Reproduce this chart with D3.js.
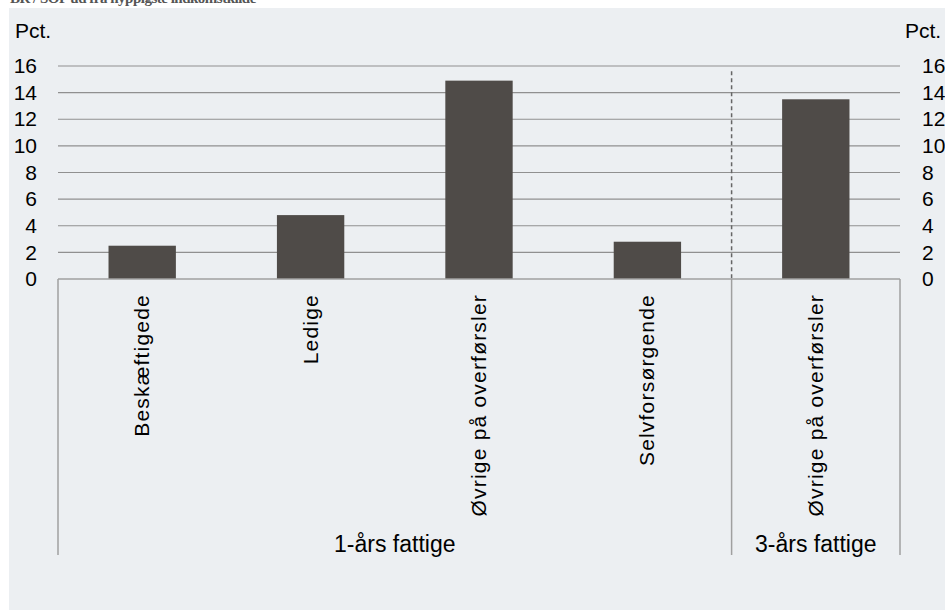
<!DOCTYPE html>
<html>
<head>
<meta charset="utf-8">
<script src="https://cdn.jsdelivr.net/npm/d3@7/dist/d3.min.js"></script>
<style>
  body { margin: 0; background: #fff; }
  text { font-family: "Liberation Sans", Arial, sans-serif; fill: #000; }
</style>
</head>
<body>
<svg id="chart"></svg>
<script>
// data
var categories = ["Beskæftigede", "Ledige", "Øvrige på overførsler", "Selvforsørgende", "Øvrige på overførsler"];
var groups = ["1-års fattige", "1-års fattige", "1-års fattige", "1-års fattige", "3-års fattige"];
var values = [2.5, 4.8, 14.9, 2.8, 13.5];
var yTicks = [0, 2, 4, 6, 8, 10, 12, 14, 16];
var groupNames = ["1-års fattige", "3-års fattige"];

var W = 945, H = 610;
var margin = { left: 58, right: 45, top: 66, bottom: 331 };
var plotW = W - margin.left - margin.right,
    plotH = H - margin.top - margin.bottom;

var svg = d3.select("#chart")
    .attr("width", W)
    .attr("height", H);

// panel background
svg.append("rect")
    .attr("x", 9).attr("y", 8)
    .attr("width", W - 9).attr("height", H - 8)
    .attr("fill", "#eceff2");

// title, cut at the top as in the source
svg.append("text")
    .attr("x", 10).attr("y", 3)
    .style("font-family", "'Liberation Serif', serif")
    .style("font-weight", "bold")
    .style("font-size", "15px")
    .style("letter-spacing", "-0.5px")
    .style("fill", "#555")
    .text("BR / SOF ud fra hyppigste indkomstkilde");

var g = svg.append("g")
    .attr("transform", "translate(" + margin.left + "," + margin.top + ")");

var idx = categories.map(function(d, i) { return i; });

// X scales
var xCell = d3.scaleBand().domain(idx).range([0, plotW]).padding(0);
var x = d3.scaleBand().domain(idx).range([0, plotW])
    .paddingInner(0.6).paddingOuter(0.3);

// Y scale
var y = d3.scaleLinear().domain([0, 16]).range([plotH, 0]);

// gridlines
g.selectAll(".grid")
    .data(yTicks.filter(function(d) { return d > 0; }))
    .enter().append("line")
        .attr("x1", 0).attr("x2", plotW)
        .attr("y1", function(d) { return y(d); })
        .attr("y2", function(d) { return y(d); })
        .attr("stroke", "#909090")
        .attr("stroke-width", 1.2);

// dashed separator between groups
var sepX = xCell(4);
g.append("line")
    .attr("x1", sepX).attr("x2", sepX)
    .attr("y1", y(15.6)).attr("y2", y(0))
    .attr("stroke", "#666")
    .attr("stroke-width", 1.5)
    .attr("stroke-dasharray", "4,3");

// bars
g.selectAll(".bar")
    .data(values)
    .enter().append("rect")
        .attr("x", function(d, i) { return x(i); })
        .attr("y", function(d) { return y(d); })
        .attr("width", x.bandwidth())
        .attr("height", function(d) { return plotH - y(d); })
        .attr("fill", "#4f4b48");

// Y axes (left and right)
var yAxisL = d3.axisLeft(y).tickValues(yTicks).tickSize(0).tickPadding(21);
var yAxisR = d3.axisRight(y).tickValues(yTicks).tickSize(0).tickPadding(22);

var gl = g.append("g").call(yAxisL);
var gr = g.append("g").attr("transform", "translate(" + plotW + ",0)").call(yAxisR);
[gl, gr].forEach(function(a) {
    a.select(".domain").remove();
    a.selectAll("text")
        .style("font-family", "'Liberation Sans', Arial, sans-serif")
        .style("font-size", "21px")
        .attr("fill", "#000");
});

// unit labels
g.append("text").attr("x", 15 - margin.left).attr("y", 38 - margin.top)
    .style("font-size", "21px").text("Pct.");
g.append("text").attr("x", 905 - margin.left).attr("y", 38 - margin.top)
    .style("font-size", "21px").text("Pct.");

// baseline and category frame
var frameBottom = 555 - margin.top;
g.append("line")
    .attr("x1", 0).attr("x2", plotW)
    .attr("y1", y(0)).attr("y2", y(0))
    .attr("stroke", "#a0a0a0").attr("stroke-width", 1.5);

[0, sepX, plotW].forEach(function(px) {
    g.append("line")
        .attr("x1", px).attr("x2", px)
        .attr("y1", y(0)).attr("y2", frameBottom)
        .attr("stroke", "#a0a0a0").attr("stroke-width", 1.5);
});

// category labels, rotated
g.selectAll(".cat")
    .data(categories)
    .enter().append("text")
        .attr("transform", function(d, i) {
            return "translate(" + (xCell(i) + xCell.bandwidth() / 2 + 7) + "," + (y(0) + 15) + ") rotate(-90)";
        })
        .attr("text-anchor", "end")
        .style("font-size", "21px")
        .style("letter-spacing", "1.2px")
        .text(function(d) { return d; });

// group labels
groupNames.forEach(function(name) {
    var members = idx.filter(function(i) { return groups[i] === name; });
    var x0 = xCell(members[0]),
        x1 = xCell(members[members.length - 1]) + xCell.bandwidth();
    g.append("text")
        .attr("x", (x0 + x1) / 2)
        .attr("y", 552 - margin.top)
        .attr("text-anchor", "middle")
        .style("font-size", "23px")
        .text(name);
});
</script>
</body>
</html>
